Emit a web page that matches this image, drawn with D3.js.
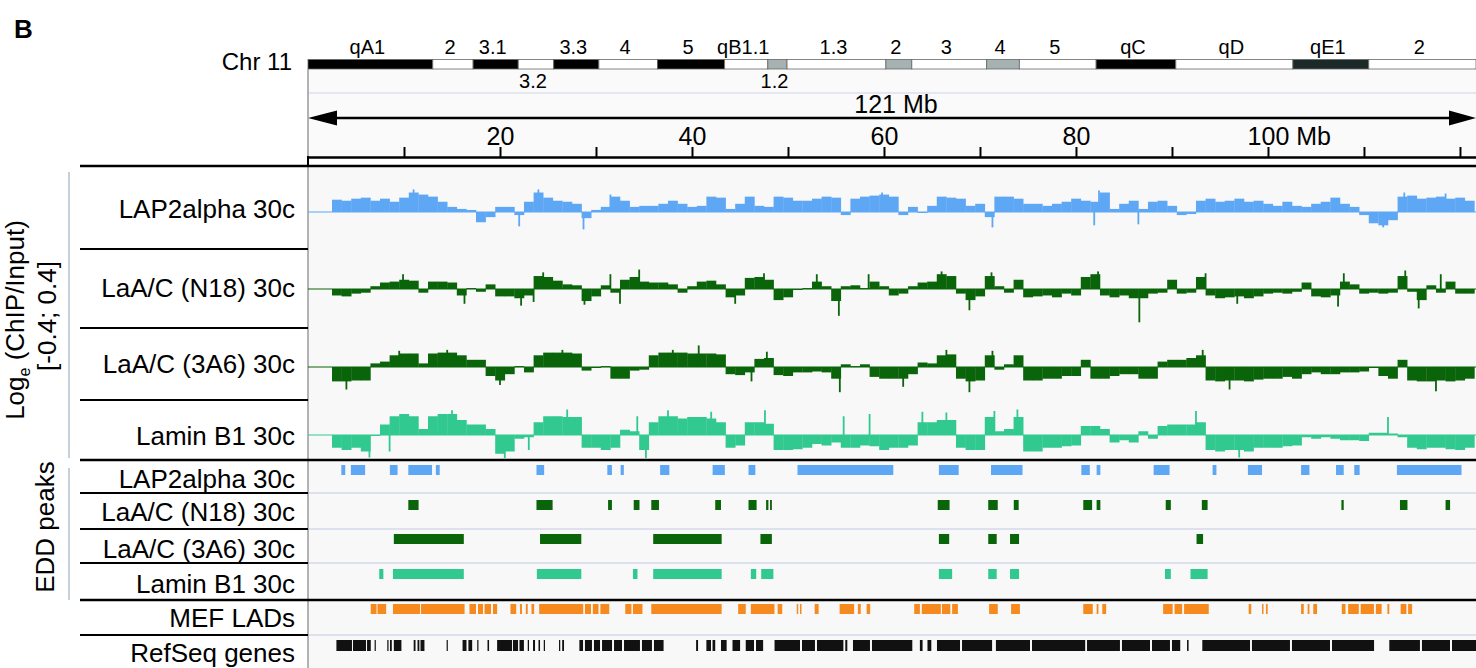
<!DOCTYPE html>
<html><head><meta charset="utf-8">
<script src="https://cdn.jsdelivr.net/npm/d3@7"></script>
<style>
body{margin:0;background:#fff}
svg{display:block;font-family:"Liberation Sans",Arial,Helvetica,sans-serif}
</style></head>
<body><svg id="chart" width="1476" height="668"></svg>
<script>
// ---------------- DATA ----------------
const chromName = "Chr 11";
const chromLengthMb = 121.67;
const bandNames  = ["qA1","2","3.1","3.2","3.3","4","5","qB1.1","1.2","1.3","2","3","4","5","qC","qD","qE1","2"];
const bandStartMb = [0,13.0,17.2,21.9,25.6,30.3,36.4,43.4,47.9,49.9,60.2,62.9,70.7,74.1,82.1,90.4,102.6,110.5];
const bandEndMb   = [13.0,17.2,21.9,25.6,30.3,36.4,43.4,47.9,49.9,60.2,62.9,70.7,74.1,82.1,90.4,102.6,110.5,121.67];
const bandStain   = ["gpos100","gneg","gpos100","gneg","gpos100","gneg","gpos100","gneg","gpos33","gneg","gpos33","gneg","gpos33","gneg","gpos100","gneg","gpos75","gneg"];
const bandLabelLower = [0,0,0,1,0,0,0,0,1,0,0,0,0,0,0,0,0,0];

const axisMinorTicksMb = [10,20,30,40,50,60,70,80,90,100,110,120];
const axisLabelTicksMb = [20,40,60,80,100];
const spanLabel = "121 Mb";

const signalLabels = ["LAP2alpha 30c","LaA/C (N18) 30c","LaA/C (3A6) 30c","Lamin B1 30c"];
const signalRange = [-0.4, 0.4];
const signalStartMb = 2.5;
const signalBinMb = 1;

// Log_e(ChIP/Input), 1-Mb bins centred at 3..121 Mb
const lap2alphaSignal = [0.12,0.11,0.13,0.14,0.11,0.13,0.10,0.14,0.19,0.17,
 0.15,0.10,0.05,0.03,0.02,-0.10,-0.05,0.05,0.05,-0.03,
 0.10,0.19,0.14,0.11,0.10,0.08,-0.06,0.02,0.05,0.15,
 0.11,0.05,0.06,0.06,0.08,0.11,0.08,0.05,0.06,0.15,
 0.14,0.03,0.08,0.15,0.06,0.05,0.15,0.14,0.11,0.11,
 0.13,0.15,0.14,-0.03,0.13,0.15,0.16,0.17,0.15,-0.03,
 0.05,0.00,0.06,0.15,0.14,0.13,0.06,0.08,-0.05,0.15,
 0.15,0.13,0.08,0.08,0.06,0.08,0.10,0.13,0.11,0.10,
 0.19,0.03,0.08,0.11,0.03,0.10,0.11,0.06,-0.03,-0.02,
 0.11,0.13,0.10,0.11,0.13,0.10,0.11,0.08,0.06,0.10,
 0.06,0.05,0.08,0.10,0.14,0.08,0.05,-0.03,-0.11,-0.13,
 -0.08,0.15,0.16,0.13,0.14,0.15,0.13,0.14,0.11];
const n18Signal = [-0.07,-0.08,-0.05,-0.04,0.03,0.07,0.08,0.10,0.09,-0.04,
 0.08,0.08,0.07,-0.07,0.01,-0.03,0.05,-0.08,-0.08,-0.10,
 -0.07,0.14,0.13,0.09,0.05,0.04,-0.13,-0.08,0.04,-0.04,
 0.10,0.13,0.08,0.07,0.07,0.05,-0.04,0.03,0.08,0.09,
 0.05,-0.09,-0.07,0.12,0.13,0.10,-0.12,-0.09,0.00,0.01,
 0.08,0.03,-0.13,0.03,0.04,0.01,0.08,0.03,-0.07,-0.05,
 0.03,0.07,0.08,0.16,0.14,-0.05,-0.12,-0.08,0.14,0.03,
 -0.04,0.10,-0.09,-0.08,-0.07,-0.09,-0.05,-0.07,0.13,0.16,
 -0.07,-0.09,-0.07,-0.10,-0.10,-0.05,-0.04,0.10,-0.05,-0.04,
 0.13,-0.07,-0.10,-0.09,-0.08,-0.10,-0.08,-0.05,-0.04,-0.05,
 -0.03,0.07,-0.08,-0.09,-0.07,0.08,0.05,-0.05,-0.04,-0.05,
 -0.04,0.14,-0.03,-0.12,0.04,-0.04,0.08,-0.05,-0.05];
const a3a6Signal = [-0.16,-0.16,-0.15,-0.15,0.04,0.06,0.13,0.15,0.15,0.04,
 0.15,0.16,0.16,0.13,0.08,0.08,-0.10,-0.15,-0.08,0.01,
 -0.06,0.13,0.16,0.16,0.16,0.15,-0.04,0.00,0.01,-0.13,
 -0.13,-0.04,-0.03,0.13,0.16,0.16,0.16,0.15,0.15,0.15,
 0.14,-0.08,-0.09,-0.06,0.09,0.10,-0.09,-0.10,-0.06,-0.06,
 -0.05,-0.06,-0.13,0.03,0.01,0.03,-0.11,-0.13,-0.13,-0.13,
 -0.08,0.05,0.04,0.13,0.14,-0.13,-0.16,-0.15,0.13,-0.03,
 0.03,0.13,-0.15,-0.15,-0.13,-0.13,-0.10,-0.10,0.08,-0.13,
 -0.13,-0.10,-0.08,-0.08,-0.13,-0.13,0.06,0.08,0.08,0.10,
 0.13,-0.15,-0.16,-0.15,-0.15,-0.16,-0.14,-0.13,-0.13,-0.11,
 -0.13,-0.08,-0.06,-0.08,-0.08,-0.06,-0.06,-0.05,0.00,-0.10,
 -0.13,0.08,-0.15,-0.16,-0.16,-0.15,-0.16,-0.15,-0.13];
const laminB1Signal = [-0.17,-0.20,-0.17,-0.22,0.00,0.14,0.25,0.28,0.25,0.08,
 0.25,0.28,0.28,0.20,0.14,0.14,0.08,-0.25,-0.22,-0.05,
 -0.03,0.17,0.25,0.25,0.24,0.24,-0.17,-0.17,-0.20,-0.17,
 0.07,0.05,-0.20,0.17,0.25,0.25,0.22,0.24,0.24,0.22,
 0.17,-0.17,-0.14,0.17,0.17,0.15,-0.20,-0.20,-0.19,-0.17,
 -0.12,-0.14,-0.10,-0.17,-0.17,-0.14,-0.15,-0.20,-0.17,-0.17,
 -0.14,0.17,0.17,0.20,0.20,-0.17,-0.20,-0.20,0.24,0.05,
 0.08,0.24,-0.22,-0.22,-0.17,-0.17,-0.15,-0.14,0.12,0.12,
 0.08,-0.10,-0.07,-0.10,0.05,-0.05,0.12,0.14,0.14,0.14,
 0.17,-0.20,-0.22,-0.20,-0.20,-0.22,-0.17,-0.17,-0.17,-0.15,
 -0.14,-0.03,-0.05,-0.03,-0.05,-0.07,-0.07,-0.08,0.03,0.03,
 0.02,-0.03,-0.17,-0.19,-0.17,-0.17,-0.19,-0.20,-0.17];

// isolated narrow spikes [Mb, value]
const lap2alphaSpikes = [[11.0,0.22],[22.0,-0.14],[24.0,0.22],[28.7,-0.17],[31.5,0.17],[59.8,0.19],[71.3,-0.15],[81.9,-0.13],[82.4,0.21],[86.5,-0.12],[112.0,-0.15],[114.2,0.19],[118.5,0.18]];
const n18Spikes = [[9.9,0.16],[16.3,-0.16],[22.2,-0.18],[23.5,-0.14],[24.5,0.18],[28.8,-0.17],[31.5,0.16],[32.5,-0.16],[34.5,0.21],[44.5,-0.16],[47.5,0.17],[53.0,0.16],[55.3,-0.29],[58.4,0.16],[66.0,0.19],[68.9,-0.23],[71.2,0.18],[82.3,0.19],[86.6,-0.36],[93.5,0.17],[96.8,-0.16],[107.3,-0.19],[107.9,0.17],[114.3,0.2],[115.7,-0.21],[118.0,0.16]];
const a3a6Spikes = [[4.0,-0.25],[9.5,0.18],[14.5,0.19],[20.0,-0.2],[26.5,0.19],[38.0,0.19],[40.7,0.24],[46.2,-0.16],[47.8,0.17],[55.4,-0.28],[62.0,-0.22],[66.5,0.19],[68.9,-0.28],[71.3,0.18],[93.2,0.19],[96.0,-0.25],[117.5,-0.27]];
const laminB1Spikes = [[6.4,-0.3],[8.5,-0.22],[15.0,0.33],[20.5,-0.31],[23.0,-0.2],[27.0,0.34],[34.3,0.25],[35.2,-0.31],[37.5,0.33],[42.0,0.31],[47.6,0.33],[55.8,0.25],[58.5,0.28],[64.0,0.31],[66.5,0.3],[71.5,0.32],[73.9,0.34],[92.5,0.32],[97.0,-0.3],[112.5,0.24]];

const peakLabels = ["LAP2alpha 30c","LaA/C (N18) 30c","LaA/C (3A6) 30c","Lamin B1 30c"];
// EDD peak domains [startMb, endMb]
const lap2alphaPeaks = [[3.47,3.88],[4.47,5.95],[8.53,9.33],[10.45,12.92],[13.32,13.72],[23.80,24.60],[31.18,31.66],[32.57,32.90],[36.68,37.64],[42.15,43.42],[45.89,46.60],[50.99,60.97],[65.72,67.78],[71.15,74.43],[80.56,81.44],[82.15,82.54],[88.09,89.75],[94.23,94.63],[97.91,99.38],[103.45,104.32],[107.09,107.89],[108.99,109.55],[113.43,120.16]];
const n18Peaks = [[10.45,11.52],[23.80,25.48],[31.26,31.66],[33.93,34.53],[35.76,36.56],[42.42,43.02],[45.89,46.73],[47.72,47.96],[48.13,48.32],[65.60,66.83],[70.86,71.85],[73.52,74.03],[80.76,81.68],[82.15,82.54],[89.35,89.88],[93.11,93.71],[107.65,107.89],[113.75,114.53],[118.50,118.97]];
const a3a6Peaks = [[8.94,16.23],[24.17,28.47],[35.96,43.09],[47.13,48.32],[65.72,66.79],[70.86,71.74],[73.13,74.07],[92.56,93.24]];
const laminB1Peaks = [[7.42,7.85],[8.85,16.23],[23.84,28.47],[33.85,34.32],[35.96,43.09],[46.13,46.69],[47.21,48.48],[65.72,67.10],[70.86,71.74],[73.13,74.07],[89.27,89.88],[91.93,93.71]];

const ladLabel = "MEF LADs";
const mefLADs = [[6.54,7.14],[7.24,8.14],[8.85,11.67],[11.77,16.31],[16.82,17.50],[17.71,18.23],[18.39,19.06],[19.27,19.70],[21.09,21.69],[22.08,22.29],[22.69,22.89],[23.28,23.56],[24.08,28.67],[28.85,29.48],[29.67,30.26],[30.46,31.38],[33.05,33.69],[33.85,34.84],[35.76,43.09],[44.81,45.60],[46.13,48.59],[48.92,49.40],[50.91,50.99],[51.25,51.39],[52.78,53.19],[55.38,56.89],[57.28,57.58],[58.19,58.56],[63.15,63.74],[63.94,65.92],[66.04,66.91],[67.10,67.70],[70.95,71.85],[73.24,74.16],[80.76,81.75],[82.15,82.34],[82.74,83.14],[89.08,90.07],[90.27,91.06],[91.26,93.83],[97.99,98.26],[99.38,99.53],[99.79,99.97],[103.45,103.73],[104.13,104.32],[104.72,105.11],[107.69,108.08],[108.35,109.46],[109.66,111.04],[111.24,111.84],[112.44,112.64],[113.82,114.42],[114.60,115.01]];

const geneLabel = "RefSeq genes";
const refseqGenes = [[2.96,4.58],[4.69,6.04],[6.15,6.54],[6.94,7.06],[8.26,8.39],[8.54,8.73],[8.94,9.73],[11.01,11.20],[11.41,11.60],[11.72,12.13],[14.44,14.55],[16.10,16.51],[16.71,17.10],[17.63,17.74],[18.70,18.86],[19.70,21.25],[21.35,21.88],[22.03,22.49],[22.89,23.02],[23.44,23.65],[24.01,24.17],[24.56,24.68],[26.15,26.27],[26.48,26.67],[28.27,28.65],[28.85,29.58],[29.79,30.42],[30.63,31.67],[31.88,32.71],[32.92,34.58],[34.79,35.83],[36.04,37.04],[40.43,40.63],[41.50,41.98],[42.14,42.42],[43.02,43.61],[44.22,45.01],[45.60,46.46],[46.67,47.41],[48.60,51.25],[51.46,52.81],[53.02,55.77],[55.97,56.18],[56.77,58.54],[58.75,62.95],[63.74,64.02],[64.53,64.93],[65.52,67.92],[68.13,71.26],[71.66,75.21],[75.42,80.96],[81.15,84.58],[84.79,87.71],[87.92,89.79],[90.00,90.86],[91.57,91.73],[93.16,98.13],[98.33,102.29],[102.50,106.46],[106.67,111.05],[112.64,115.83],[116.04,118.96],[119.17,121.67]];

// ---------------- DRAW ----------------
const svg = d3.select("#chart");
const left = 308, right = 1476;
const x = d3.scaleLinear().domain([0, chromLengthMb]).range([left, right]);
const stainColor = {gneg:"#ffffff", gpos33:"#a6b2b2", gpos75:"#1c2929", gpos100:"#000000"};

// backgrounds
svg.append("rect").attr("x",left).attr("y",69).attr("width",right-left).attr("height",88).attr("fill","#fafafa");
svg.append("rect").attr("x",left).attr("y",167).attr("width",right-left).attr("height",501).attr("fill","#f8f8f8");
svg.append("line").attr("x1",left).attr("x2",right).attr("y1",93).attr("y2",93).attr("stroke","#cdd3ea").attr("stroke-width",1.2);

// panel label
svg.append("text").attr("x",14).attr("y",38).attr("font-weight","bold").attr("font-size",26).text("B");

// ideogram
svg.append("text").attr("x",292).attr("y",70).attr("text-anchor","end").attr("font-size",24).text(chromName);
const ideo = svg.append("g");
ideo.selectAll("rect").data(bandNames).join("rect")
  .attr("x",(d,i)=>x(bandStartMb[i])).attr("y",59.5)
  .attr("width",(d,i)=>x(bandEndMb[i])-x(bandStartMb[i])).attr("height",9.5)
  .attr("fill",(d,i)=>stainColor[bandStain[i]])
  .attr("stroke","#666").attr("stroke-width",0.8);
ideo.selectAll("text").data(bandNames).join("text")
  .attr("x",(d,i)=>(x(bandStartMb[i])+x(bandEndMb[i]))/2 - 3)
  .attr("y",(d,i)=>bandLabelLower[i] ? 88 : 54)
  .attr("text-anchor","middle").attr("font-size",20).text(d=>d);

// span arrow
svg.append("text").attr("x",896).attr("y",113).attr("text-anchor","middle").attr("font-size",25).text(spanLabel);
svg.append("line").attr("x1",x(0)+20).attr("x2",x(chromLengthMb)-20).attr("y1",118).attr("y2",118).attr("stroke","#000").attr("stroke-width",2.5);
svg.append("path").attr("d",`M${x(0)},118 L${x(0)+29},110.5 L${x(0)+29},125.5 Z`).attr("fill","#000");
svg.append("path").attr("d",`M${x(chromLengthMb)},118 L${x(chromLengthMb)-27},110.5 L${x(chromLengthMb)-27},125.5 Z`).attr("fill","#000");

// ruler axis
const axisG = svg.append("g").attr("transform","translate(0,157)")
  .call(d3.axisTop(x).tickValues(axisMinorTicksMb).tickSize(10).tickSizeOuter(0).tickPadding(2)
        .tickFormat(d => axisLabelTicksMb.includes(d) ? d : ""));
axisG.attr("font-family",null).attr("font-size",null);
axisG.select(".domain").attr("stroke","#000").attr("stroke-width",2.5);
axisG.selectAll(".tick line").attr("stroke","#000").attr("stroke-width",2);
axisG.selectAll(".tick text").attr("font-size",25).attr("fill","#000");
axisG.selectAll(".tick text").filter(d=>d===axisLabelTicksMb[axisLabelTicksMb.length-1]).each(function(){
  const w = this.getComputedTextLength();
  d3.select(this).attr("text-anchor","start").attr("x",-w/2).text(this.textContent+" Mb");
});
svg.append("line").attr("x1",left).attr("x2",left).attr("y1",69).attr("y2",668).attr("stroke","#9a9a9a").attr("stroke-width",1.5);
svg.append("line").attr("x1",left).attr("x2",left).attr("y1",156).attr("y2",167).attr("stroke","#000").attr("stroke-width",2);

// separators
[166,460,600].forEach(y=>svg.append("line").attr("x1",80).attr("x2",right).attr("y1",y).attr("y2",y).attr("stroke","#000").attr("stroke-width",2.5));
[249,328,400,493,529,563,635].forEach(y=>svg.append("line").attr("x1",80).attr("x2",left).attr("y1",y).attr("y2",y).attr("stroke","#000").attr("stroke-width",2));
[493,529,563,635].forEach(y=>svg.append("line").attr("x1",left+1).attr("x2",right).attr("y1",y).attr("y2",y).attr("stroke","#d5d9ea").attr("stroke-width",1.5));

// signal tracks
const signalSeries = [lap2alphaSignal, n18Signal, a3a6Signal, laminB1Signal];
const signalSpikes = [lap2alphaSpikes, n18Spikes, a3a6Spikes, laminB1Spikes];
const signalColors = ["#5ea7f4","#0a640a","#0a640a","#31c98f"];
const trackZero = [212, 289, 367, 435];
const trackHalf = [41, 37, 36, 30];
const labelBase = [218, 297, 373, 445];

signalSeries.forEach((vals,k)=>{
  const y = d3.scaleLinear().domain(signalRange).range([trackZero[k]+trackHalf[k], trackZero[k]-trackHalf[k]]);
  const g = svg.append("g");
  g.append("line").attr("x1",left).attr("x2",right).attr("y1",y(0)).attr("y2",y(0)).attr("stroke",signalColors[k]).attr("stroke-width",1.2);
  g.selectAll("rect.bin").data(vals).join("rect").attr("class","bin")
    .attr("x",(v,i)=>x(signalStartMb+i*signalBinMb))
    .attr("width",x(signalBinMb)-x(0)+0.3)
    .attr("y",v=>Math.min(y(v),y(0)))
    .attr("height",v=>Math.max(1,Math.abs(y(v)-y(0))))
    .attr("fill",signalColors[k]);
  g.selectAll("rect.spk").data(signalSpikes[k]).join("rect").attr("class","spk")
    .attr("x",d=>x(d[0])-0.9).attr("width",1.8)
    .attr("y",d=>Math.min(y(d[1]),y(0))).attr("height",d=>Math.abs(y(d[1])-y(0)))
    .attr("fill",signalColors[k]);
  svg.append("text").attr("x",295).attr("y",labelBase[k]).attr("text-anchor","end").attr("font-size",26).text(signalLabels[k]);
});

// EDD peak tracks
const peakSeries = [lap2alphaPeaks, n18Peaks, a3a6Peaks, laminB1Peaks];
const peakColors = ["#5ea7f4","#0a640a","#0a640a","#31c98f"];
const peakBarY = [465, 500, 534, 569];
const peakLabelBase = [488, 521, 558, 593];
peakSeries.forEach((segs,k)=>{
  svg.append("g").selectAll("rect").data(segs).join("rect")
    .attr("x",d=>x(d[0])).attr("width",d=>Math.max(1.5,x(d[1])-x(d[0])))
    .attr("y",peakBarY[k]).attr("height",10).attr("fill",peakColors[k]);
  svg.append("text").attr("x",295).attr("y",peakLabelBase[k]).attr("text-anchor","end").attr("font-size",26).text(peakLabels[k]);
});

// LADs
svg.append("g").selectAll("rect").data(mefLADs).join("rect")
  .attr("x",d=>x(d[0])).attr("width",d=>Math.max(1.5,x(d[1])-x(d[0])))
  .attr("y",604).attr("height",10).attr("fill","#f68a1e");
svg.append("text").attr("x",295).attr("y",627).attr("text-anchor","end").attr("font-size",26).text(ladLabel);

// RefSeq genes
svg.append("g").selectAll("rect").data(refseqGenes).join("rect")
  .attr("x",d=>x(d[0])).attr("width",d=>Math.max(1.2,x(d[1])-x(d[0])))
  .attr("y",640).attr("height",11).attr("fill","#111");
svg.append("text").attr("x",295).attr("y",662).attr("text-anchor","end").attr("font-size",26).text(geneLabel);

// left axis titles and brackets
svg.append("line").attr("x1",69).attr("x2",69).attr("y1",172).attr("y2",458).attr("stroke","#c6d0d8").attr("stroke-width",2);
svg.append("line").attr("x1",69).attr("x2",69).attr("y1",468).attr("y2",600).attr("stroke","#c6d0d8").attr("stroke-width",2);
const t1 = svg.append("text").attr("transform","translate(24,320) rotate(-90)").attr("text-anchor","middle").attr("font-size",26);
t1.append("tspan").text("Log");
t1.append("tspan").attr("font-size",16).attr("dy",6).text("e");
t1.append("tspan").attr("dy",-6).text(" (ChIP/Input)");
svg.append("text").attr("transform","translate(56,316) rotate(-90)").attr("text-anchor","middle").attr("font-size",26).text("[-0.4; 0.4]");
svg.append("text").attr("transform","translate(54,527) rotate(-90)").attr("text-anchor","middle").attr("font-size",26).text("EDD peaks");
</script>
</body></html>
